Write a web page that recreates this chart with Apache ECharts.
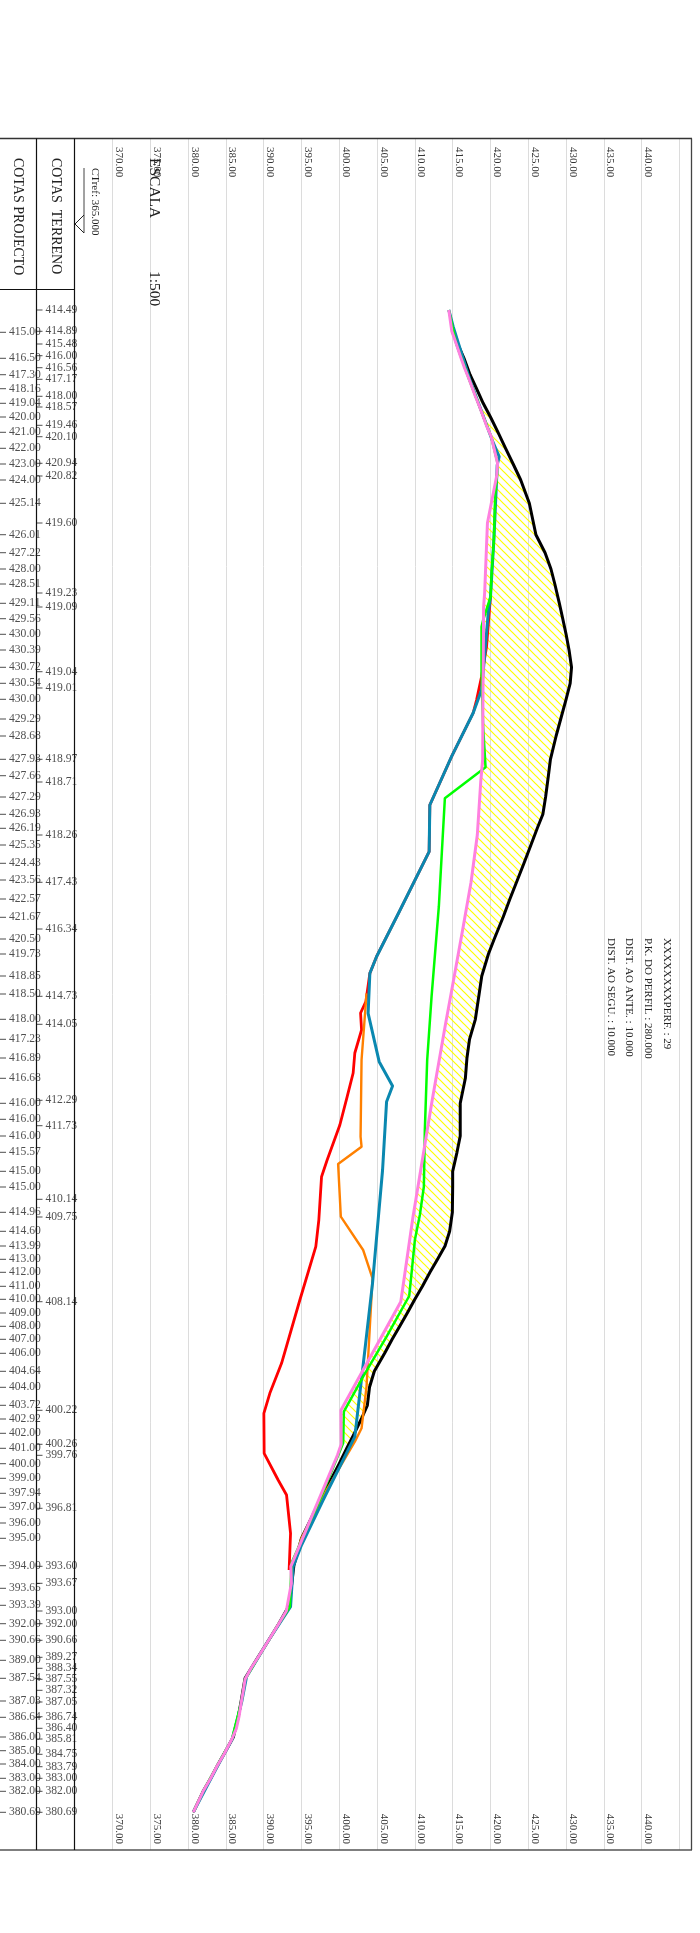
<!DOCTYPE html>
<html lang="en">
<head>
    <meta charset="UTF-8">
    <title>Perfil 29</title>
    <script src="https://cdn.jsdelivr.net/npm/echarts@6/dist/echarts.min.js"></script>
    <style>
        html, body { margin: 0; padding: 0; background: #fff; }
    </style>
</head>
<body>
<div id="perfil" style="width: 700px;height: 1933px"></div>
<script type="text/javascript">
    // distance along the profile (m) and elevation (m)
    var projectoStation = [4.46, 9.66, 12.94, 15.74, 18.66, 21.4, 24.46, 27.66, 30.8, 34, 38.66, 44.94, 48.54, 51.8, 54.8, 58.66, 61.74, 64.86, 68, 71.46, 74.66, 77.86, 81.8, 85.2, 89.86, 93.14, 97.4, 100.86, 103.66, 107, 110.66, 114, 117.8, 121.46, 125.8, 128.8, 133.2, 136.8, 141.86, 145.86, 149.6, 153.66, 158.66, 161.86, 165.2, 168.46, 172.26, 175.4, 180.46, 184.26, 187.2, 189.86, 192.46, 195.26, 197.86, 200.6, 203.26, 205.86, 208.66, 212.26, 215.46, 219.06, 221.8, 224.66, 227.66, 230.74, 233.66, 236.66, 239.46, 242.6, 245.66, 251.14, 255.66, 259.06, 262.74, 266.06, 270.06, 273.66, 278.2, 281.46, 285.4, 288.14, 290.8, 293.66, 296.26, 300.46];
    var projectoCota = [415.00, 416.50, 417.30, 418.16, 419.04, 420.00, 421.00, 422.00, 423.00, 424.00, 425.14, 426.01, 427.22, 428.00, 428.51, 429.11, 429.56, 430.00, 430.39, 430.72, 430.54, 430.00, 429.29, 428.68, 427.93, 427.66, 427.29, 426.93, 426.19, 425.35, 424.43, 423.56, 422.57, 421.67, 420.50, 419.73, 418.85, 418.50, 418.00, 417.23, 416.89, 416.68, 416.00, 416.00, 416.00, 415.57, 415.00, 415.00, 414.96, 414.60, 413.99, 413.00, 412.00, 411.00, 410.00, 409.00, 408.00, 407.00, 406.00, 404.64, 404.00, 403.72, 402.92, 402.00, 401.00, 400.00, 399.00, 397.94, 397.00, 396.00, 395.00, 394.00, 393.65, 393.39, 392.00, 390.66, 389.00, 387.54, 387.03, 386.64, 386.00, 385.00, 384.00, 383.00, 382.00, 380.69];

    var terrenoStation = [0, 4.26, 6.8, 9.14, 11.54, 13.86, 17.26, 19.4, 23.06, 25.34, 30.66, 33.2, 42.6, 56.6, 59.4, 72.34, 75.6, 89.86, 94.4, 105, 114.46, 123.8, 137.26, 142.86, 158.06, 163.14, 177.86, 181.4, 198.34, 220.06, 226.86, 229.06, 239.66, 251.26, 254.66, 260.2, 262.74, 266.06, 269.46, 271.66, 273.86, 276.06, 278.4, 281.34, 283.66, 285.8, 288.86, 291.34, 293.66, 296.26, 300.46];
    var terrenoCota = [414.49, 414.89, 415.48, 416.00, 416.56, 417.17, 418.00, 418.57, 419.46, 420.10, 420.94, 420.82, 419.60, 419.23, 419.09, 419.04, 419.01, 418.97, 418.71, 418.26, 417.43, 416.34, 414.73, 414.05, 412.29, 411.73, 410.14, 409.75, 408.14, 400.22, 400.26, 399.76, 396.81, 393.60, 393.67, 393.00, 392.00, 390.66, 389.27, 388.34, 387.55, 387.32, 387.05, 386.74, 386.40, 385.81, 384.75, 383.79, 383.00, 382.00, 380.69];

    var verdeStation = [0, 6.8, 13.86, 19.4, 25.34, 30.66, 32.6, 37.34, 46, 52.6, 57.4, 62, 63.34, 66, 72.6, 74, 83.34, 91.46, 97.66, 106, 119.34, 137.34, 150, 164, 175.34, 181, 186, 192.66, 197.2, 205.34, 213.34, 220.34, 226.6, 238, 245.34, 250.6, 259.34, 262.74, 266.06, 269.46, 273.86, 278.4, 285.8, 291.34, 296.26, 300.46];
    var verdeCota = [414.49, 415.48, 417.17, 418.57, 420.10, 420.94, 420.89, 420.62, 420.45, 420.15, 420.01, 419.03, 418.82, 418.82, 418.82, 418.86, 419.03, 419.35, 413.97, 413.66, 413.17, 412.21, 411.63, 411.32, 411.19, 410.66, 410.00, 409.56, 409.25, 406.26, 403.16, 400.61, 400.52, 397.43, 395.22, 393.69, 393.47, 392.00, 390.66, 389.27, 387.55, 387.05, 385.81, 383.79, 382.00, 380.69];

    var azulStation = [0, 3.34, 13.86, 26, 29.34, 31, 32.6, 46, 57.4, 60.6, 68.6, 76, 80.6, 89.34, 99, 108.34, 120.6, 129.34, 132.66, 140.66, 150.34, 155.2, 158.34, 172, 194.66, 208, 225.34, 238, 247, 251.34, 259.34, 266.06, 273.34, 278.4, 285.8, 291.34, 300.46];
    var azulCota = [414.49, 415.07, 417.25, 420.22, 421.15, 420.89, 420.85, 420.45, 420.00, 419.70, 419.26, 418.82, 417.71, 414.85, 411.98, 411.89, 407.85, 404.93, 404.05, 403.82, 405.28, 407.05, 406.26, 405.73, 404.40, 403.39, 402.06, 397.87, 395.01, 393.90, 393.56, 390.66, 387.74, 387.10, 385.85, 383.85, 380.69];

    var vermelhoStation = [57.4, 67.34, 73.34, 78, 80.6, 89.34, 99, 108.34, 120.6, 129.34, 132.66, 138.34, 140.6, 144, 148.6, 152.6, 157.34, 163, 170, 173.34, 182, 187.34, 198, 210.66, 216.66, 220.66, 228.66, 234, 237, 244.66, 252];
    var vermelhoCota = [420.00, 419.48, 418.82, 418.16, 417.71, 414.85, 411.98, 411.89, 407.85, 404.93, 404.05, 403.52, 402.82, 402.95, 402.06, 401.84, 401.05, 400.08, 398.40, 397.66, 397.30, 396.90, 394.79, 392.37, 390.82, 390.03, 390.07, 391.92, 393.03, 393.56, 393.37];

    var laranjaStation = [136.66, 150, 165.34, 167.34, 170.8, 181.34, 188, 193.66, 215.34, 223.66, 226.34, 236.6, 245.66, 251];
    var laranjaCota = [403.61, 402.95, 402.82, 402.95, 399.85, 400.21, 403.16, 404.40, 403.61, 402.95, 402.06, 398.09, 395.00, 393.90];

    var infoLinhas = ['XXXXXXXXPERF. : 29', 'P.K. DO PERFIL : 280.000', 'DIST. AO ANTE. : 10.000', 'DIST. AO SEGU. : 10.000'];

    var fonte = '"Liberation Serif", "Times New Roman", serif';

    function zip(estacoes, cotas) {
        return estacoes.map(function (s, i) { return [cotas[i], s]; });
    }

    // the hatch tile, yellow diagonals
    function hatchTile() {
        var c = document.createElement('canvas');
        c.width = 8;
        c.height = 8;
        var ctx = c.getContext('2d');
        ctx.strokeStyle = '#ffff00';
        ctx.lineWidth = 1.2;
        ctx.beginPath();
        ctx.moveTo(-2, -2);
        ctx.lineTo(10, 10);
        ctx.moveTo(-2, 6);
        ctx.lineTo(2, 10);
        ctx.moveTo(6, -2);
        ctx.lineTo(10, 2);
        ctx.stroke();
        return c;
    }
    var tile = hatchTile();

    function linha(nome, estacoes, cotas, cor, largura) {
        return {
            name: nome,
            type: 'line',
            xAxisIndex: 0,
            yAxisIndex: 0,
            data: zip(estacoes, cotas),
            symbol: 'none',
            silent: true,
            clip: false,
            lineStyle: { color: cor, width: largura, join: 'round' }
        };
    }

    function coluna(nome, idx, estacoes, cotas) {
        return {
            name: nome,
            type: 'scatter',
            xAxisIndex: idx,
            yAxisIndex: idx,
            data: estacoes.map(function (s, i) { return [0, s, cotas[i]]; }),
            encode: { x: 0, y: 1 },
            symbol: 'rect',
            symbolSize: [6, 1],
            symbolOffset: [3, 0],
            silent: true,
            itemStyle: { color: '#222' },
            label: {
                show: true,
                position: 'right',
                distance: 3,
                fontFamily: fonte,
                fontSize: 11.6,
                color: '#222',
                formatter: function (p) { return p.data[2].toFixed(2); }
            }
        };
    }

    function textoVertical(txt, x, y, tam) {
        return {
            type: 'text',
            x: x,
            y: y,
            rotation: -Math.PI / 2,
            silent: true,
            z: 50,
            style: { text: txt, fontFamily: fonte, fontSize: tam, fill: '#222', align: 'left', verticalAlign: 'middle' }
        };
    }

    function traco(x1, y1, x2, y2, cor, larg) {
        return {
            type: 'line',
            silent: true,
            z: 60,
            shape: { x1: x1, y1: y1, x2: x2, y2: y2 },
            style: { stroke: cor, lineWidth: larg }
        };
    }

    var gridTop = 138.5, gridHeight = 1711.5;
    var yMin = -34.3, yMax = 308;
    var labelCota = function (v) { return v < 370 || v > 440 ? '' : v.toFixed(2); };

    var elementos = [
        traco(0, 138.5, 692, 138.5, '#333', 1.3),
        traco(0, 1850, 692, 1850, '#555', 1.3),
        traco(691.5, 138.5, 691.5, 1850, '#444', 1.3),
        traco(36.5, 138.5, 36.5, 1850, '#111', 1.2),
        traco(74.5, 138.5, 74.5, 1850, '#111', 1.2),
        traco(0, 289.5, 74.5, 289.5, '#111', 1),
        traco(84, 168, 84, 233, '#444', 1),
        traco(84, 215, 75, 224, '#222', 1),
        traco(75, 224, 84, 233, '#222', 1),
        textoVertical('COTAS PROJECTO', 17.5, 158, 14),
        textoVertical('COTAS  TERRENO', 55.5, 158, 14),
        textoVertical('CTref: 365.000', 95, 168, 11),
        textoVertical('ESCALA', 154, 158, 15.5),
        textoVertical('1:500', 154, 271, 15.5)
    ];
    var infoX = [667.3, 648.3, 629.3, 610.7];
    infoLinhas.forEach(function (t, i) {
        elementos.push(textoVertical(t, infoX[i], 938, 11));
    });

    var option = {
        animation: false,
        grid: [
            { left: 74.6, top: gridTop, width: 617, height: gridHeight },
            { left: 36.5, top: gridTop, width: 38, height: gridHeight },
            { left: 0, top: gridTop, width: 36.5, height: gridHeight }
        ],
        xAxis: [
            {
                gridIndex: 0, type: 'value', position: 'top', min: 365, max: 446.6, interval: 5,
                axisLine: { show: false }, axisTick: { show: false },
                splitLine: { show: true, lineStyle: { color: '#dcdcdc', width: 1 } },
                axisLabel: {
                    show: true, inside: true, rotate: -90, margin: 8.5, align: 'left', verticalAlign: 'bottom',
                    fontFamily: fonte, fontSize: 11, lineHeight: 13, color: '#333', hideOverlap: false,
                    showMinLabel: true, showMaxLabel: true, formatter: labelCota
                }
            },
            { gridIndex: 1, type: 'value', min: 0, max: 1, show: false },
            { gridIndex: 2, type: 'value', min: 0, max: 1, show: false },
            {
                gridIndex: 0, type: 'value', position: 'bottom', min: 365, max: 446.6, interval: 5,
                axisLine: { show: false }, axisTick: { show: false }, splitLine: { show: false },
                axisLabel: {
                    show: true, inside: true, rotate: -90, margin: 6, align: 'right', verticalAlign: 'bottom',
                    fontFamily: fonte, fontSize: 11, lineHeight: 13, color: '#333', hideOverlap: false,
                    showMinLabel: true, showMaxLabel: true, formatter: labelCota
                }
            }
        ],
        yAxis: [
            { gridIndex: 0, type: 'value', inverse: true, min: yMin, max: yMax, show: false },
            { gridIndex: 1, type: 'value', inverse: true, min: yMin, max: yMax, show: false },
            { gridIndex: 2, type: 'value', inverse: true, min: yMin, max: yMax, show: false }
        ],
        graphic: { elements: elementos },
        series: [
            {
                name: 'hatch',
                type: 'custom',
                xAxisIndex: 0,
                yAxisIndex: 0,
                silent: true,
                z: 1,
                data: [[0, 0]],
                renderItem: function (params, api) {
                    var pts = [];
                    projectoStation.forEach(function (s, i) {
                        if (s >= 18 && s <= 227.7) pts.push(api.coord([projectoCota[i], s]));
                    });
                    for (var i = terrenoStation.length - 1; i >= 0; i--) {
                        if (terrenoStation[i] >= 17 && terrenoStation[i] <= 227) pts.push(api.coord([terrenoCota[i], terrenoStation[i]]));
                    }
                    return {
                        type: 'polygon',
                        shape: { points: pts },
                        style: { fill: { image: tile, repeat: 'repeat' }, stroke: null }
                    };
                }
            },
            linha('projecto', projectoStation, projectoCota, '#000000', 3),
            linha('vermelho', vermelhoStation, vermelhoCota, '#ff0000', 2.8),
            linha('laranja', laranjaStation, laranjaCota, '#ff8000', 2.4),
            linha('azul', azulStation, azulCota, '#0a88b0', 3),
            linha('verde', verdeStation, verdeCota, '#00ff00', 2.5),
            linha('terreno', terrenoStation, terrenoCota, '#ff80e0', 3),
            coluna('cotasTerreno', 1, terrenoStation, terrenoCota),
            coluna('cotasProjecto', 2, projectoStation, projectoCota)
        ]
    };

    var myEcharts = echarts.init(document.getElementById('perfil'));
    myEcharts.setOption(option);
</script>
</body>
</html>
